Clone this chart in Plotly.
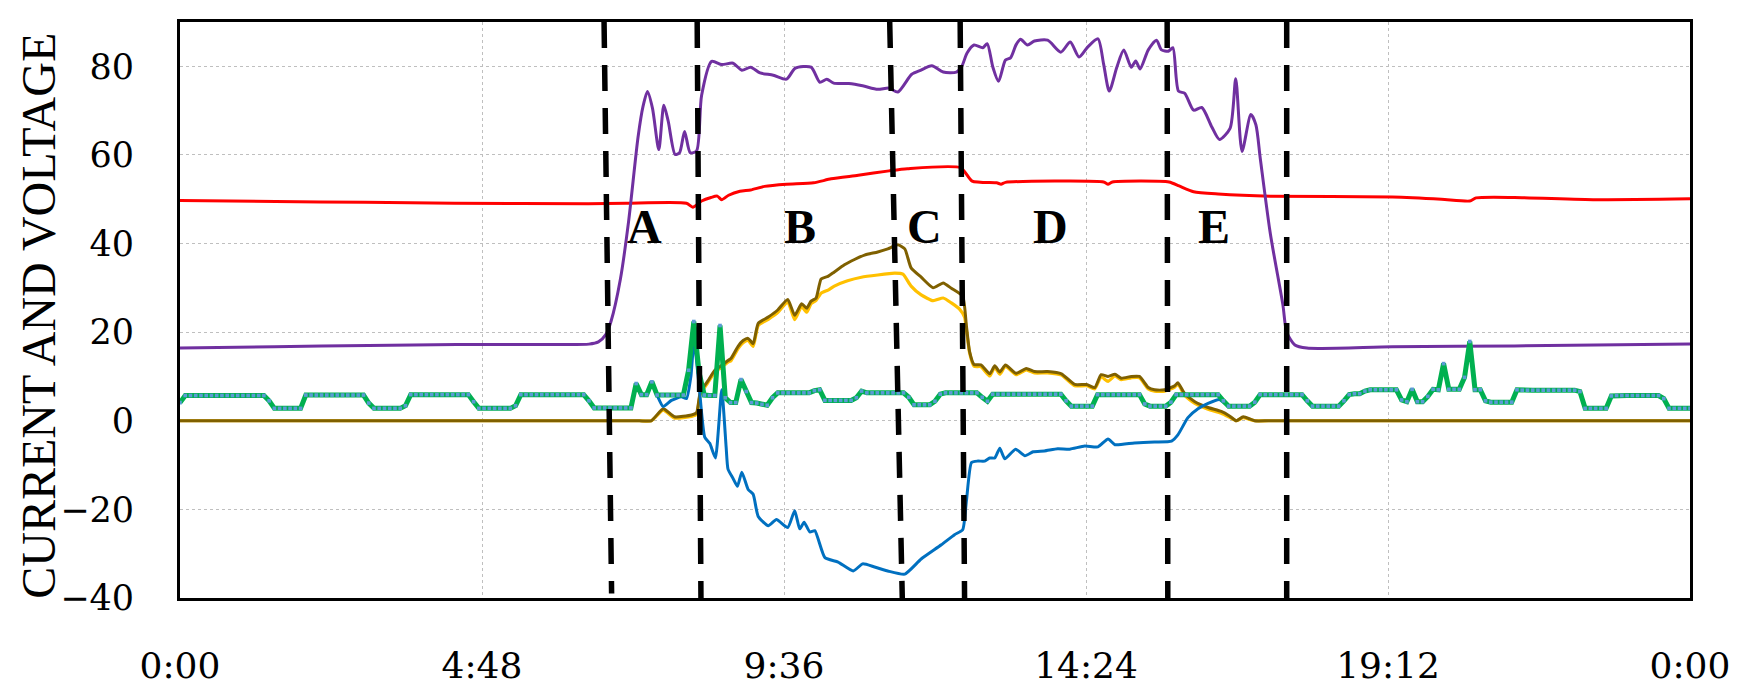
import plotly.graph_objects as go

# ---------------- data (hours of day -> value) ----------------
tick_vals = [0, 4.8, 9.6, 14.4, 19.2, 24]
tick_text = ["0:00", "4:48", "9:36", "14:24", "19:12", "0:00"]

# purple
purple_t = [0, 1.5, 3.0, 4.4, 6.0, 6.5, 6.65, 6.77, 6.85, 7.0, 7.13, 7.28, 7.36, 7.43,
            7.51, 7.61, 7.69, 7.76, 7.87, 7.94, 8.02, 8.11, 8.21, 8.29, 8.45, 8.61, 8.79,
            8.93, 9.07, 9.22, 9.43, 9.64, 9.78, 10.03, 10.17, 10.28, 10.39, 10.63, 10.85,
            11.09, 11.27, 11.41, 11.63, 11.77, 11.95, 12.13, 12.34, 12.42, 12.51, 12.62,
            12.76, 12.83, 12.92, 13.01, 13.12, 13.20, 13.29, 13.36, 13.47, 13.58, 13.79,
            14.0, 14.15, 14.29, 14.43, 14.59, 14.68, 14.77, 14.89, 15.0, 15.12, 15.19,
            15.26, 15.39, 15.52, 15.60, 15.71, 15.78, 15.87, 15.97, 16.11, 16.24, 16.40,
            16.52, 16.69, 16.78, 16.88, 17.02, 17.10, 17.17, 17.33, 17.53, 17.59, 17.72,
            17.91, 19.27, 21.21, 24.0]
purple_v = [16.4, 16.7, 17.0, 17.2, 17.2, 17.3, 17.8, 19.5, 22.4, 32.0, 45.0, 64.0, 71.0, 74.3,
            70.5, 61.2, 71.2, 67.6, 60.1, 60.5, 65.3, 60.5, 60.9, 73.4, 81.1, 80.4, 80.7,
            79.1, 79.8, 78.5, 78.0, 77.1, 79.6, 79.8, 76.4, 77.1, 76.2, 76.1, 75.6,
            74.8, 75.1, 74.2, 78.2, 79.1, 80.1, 78.7, 78.7, 79.8, 83.0, 84.8,
            84.2, 85.1, 79.8, 76.6, 81.4, 81.9, 84.9, 86.1, 84.8, 85.7, 85.9,
            83.2, 85.5, 82.1, 84.4, 86.2, 80.5, 74.4, 79.8, 83.7, 79.8, 81.2,
            79.4, 83.7, 85.9, 83.7, 83.4, 84.2, 74.4, 73.9, 70.1, 70.7, 66.3,
            63.5, 66.0, 77.2, 60.8, 69.1, 66.8, 59.2, 42.2, 26.1, 20.0, 17.1,
            16.4, 16.7, 16.9, 17.3]

# red
red_t = [0, 1.52, 2.94, 4.36, 6.49, 7.09, 8.05, 8.15, 8.29, 8.44, 8.54, 8.61, 8.72, 8.90,
         9.07, 9.29, 9.64, 10.07, 10.35, 10.78, 11.27, 11.56, 12.41, 12.59, 12.98, 13.05,
         13.12, 14.68, 14.75, 14.82, 15.72, 15.88, 16.11, 16.50, 17.33, 19.27, 20.05,
         20.50, 20.60, 21.21, 22.5, 24.0]
red_v = [49.7, 49.5, 49.3, 49.1, 49.0, 49.1, 49.1, 48.2, 49.6, 50.4, 50.7, 49.9, 50.9, 51.8,
         52.1, 52.9, 53.4, 53.7, 54.6, 55.4, 56.4, 56.9, 57.1, 54.1, 53.7, 53.4,
         53.8, 53.9, 53.4, 53.9, 53.9, 53.0, 51.7, 51.2, 50.7, 50.5, 50.0,
         49.6, 50.3, 50.4, 49.9, 50.1]

# brown
brown_t = [0, 2.4, 4.8, 6.0, 7.0, 7.30, 7.49, 7.68, 7.86, 8.13, 8.21, 8.27, 8.39, 8.50, 8.60,
           8.71, 8.76, 8.87, 8.95,
           9.03, 9.11, 9.19, 9.35, 9.50, 9.66, 9.77, 9.88, 9.96, 10.03, 10.11, 10.19, 10.30,
           10.40, 10.56, 10.72, 10.88, 11.09, 11.25, 11.41, 11.52, 11.62, 11.78, 11.97,
           12.13, 12.26, 12.44, 12.50, 12.55, 12.62, 12.73, 12.87, 12.95, 13.03, 13.12,
           13.29, 13.45, 13.58, 13.79, 14.01, 14.22, 14.41, 14.54, 14.64, 14.75, 14.86,
           14.96, 15.12, 15.25, 15.39, 15.49, 15.65, 15.81, 15.86, 15.97, 16.13, 16.34,
           16.55, 16.68, 16.79, 16.90, 17.08, 17.3, 18.0, 19.2, 21.6, 24.0]
brown_v = [0, 0, 0, 0, 0, 0, 0, 2.7, 0.9, 1.3, 1.8, 6.5, 9.0, 11.4, 12.4,
           13.6, 14.1, 16.8, 18.1,
           18.6, 17.4, 22.0, 23.4, 25.0, 27.4, 23.8, 26.4, 25.4, 27.0, 27.7, 32.0, 32.6,
           33.6, 35.2, 36.4, 37.4, 38.1, 38.8, 39.7, 38.8, 34.5, 32.4, 30.0,
           31.1, 29.9, 28.1, 21.3, 15.6, 12.7, 12.6, 10.6, 12.4, 11.0, 12.6,
           10.7, 11.8, 11.1, 11.1, 10.6, 8.2, 8.2, 7.5, 10.4, 10.0, 10.5,
           9.6, 10.0, 10.0, 7.5, 7.0, 7.0, 7.9, 8.6, 6.1, 4.3, 3.0,
           2.1, 1.1, 0.0, 0.9, 0.0, 0.0, 0.0, 0.0, 0.0, 0.0]

# yellow
yellow_t = [0, 2.4, 4.8, 6.0, 7.0, 7.30, 7.49, 7.68, 7.86, 8.13, 8.21, 8.27, 8.39, 8.50, 8.60,
            8.71, 8.76, 8.87, 8.95,
            9.03, 9.11, 9.19, 9.35, 9.50, 9.66, 9.77, 9.88, 9.96, 10.03, 10.11, 10.19, 10.30,
            10.40, 10.61, 10.83, 11.09, 11.36, 11.49, 11.62, 11.78, 11.97, 12.13, 12.26,
            12.39, 12.47, 12.50, 12.55, 12.62, 12.73, 12.87, 12.95, 13.03, 13.12,
            13.29, 13.45, 13.58, 13.79, 14.01, 14.22, 14.41, 14.54, 14.64, 14.75, 14.86,
            14.96, 15.12, 15.25, 15.39, 15.49, 15.65, 15.81, 15.86, 15.97, 16.13, 16.34,
            16.55, 16.68, 16.79, 16.90, 17.08, 17.3, 18.0, 19.2, 21.6, 24.0]
yellow_v = [0, 0, 0, 0, 0, 0, 0, 2.4, 0.6, 1.0, 1.4, 6.0, 8.6, 11.0, 12.0,
            13.2, 13.6, 16.3, 17.6,
            18.1, 16.8, 21.5, 22.9, 24.4, 26.8, 22.8, 25.8, 24.5, 26.4, 27.2, 28.8, 29.5,
            30.4, 31.6, 32.4, 32.9, 33.3, 33.1, 30.4, 28.4, 27.1, 27.7, 26.6,
            25.2, 23.4, 20.5, 15.3, 12.3, 12.2, 10.1, 12.1, 10.5, 12.3,
            10.4, 11.5, 10.8, 10.8, 10.3, 7.9, 7.9, 7.2, 9.9, 8.9, 10.1,
            9.3, 9.7, 9.7, 7.2, 6.7, 6.7, 7.6, 8.3, 5.7, 3.9, 2.6,
            1.7, 0.8, 0.0, 0.7, 0.0, 0.0, 0.0, 0.0, 0.0, 0.0]

# blue (day part; at night it lies under the green series)
blue_t = [7.583, 7.68, 7.81, 7.97, 8.05, 8.12, 8.17, 8.25, 8.34, 8.42, 8.51, 8.61, 8.68,
          8.71, 8.79, 8.86, 8.93, 9.03, 9.11, 9.19, 9.35, 9.48, 9.66, 9.77, 9.85, 9.92,
          10.01, 10.09, 10.25, 10.46, 10.70, 10.85, 11.04, 11.25, 11.52, 11.78, 12.10,
          12.31, 12.44, 12.50, 12.58, 12.68, 12.79, 12.87, 12.95, 13.03, 13.11, 13.28,
          13.43, 13.56, 13.74, 13.95, 14.14, 14.38, 14.59, 14.75, 14.86, 15.17, 15.49,
          15.76, 15.86, 16.02, 16.18, 16.34, 16.52, 16.60, 16.667]
blue_v = [5.8, 3.2, 4.6, 5.4, 5.0, 10.0, 18.0, 8.0, -3.7, -5.1, -8.4, 7.0, -5.9,
          -10.9, -13.0, -14.8, -11.6, -15.5, -16.6, -21.6, -23.7, -22.3, -24.1, -20.3, -24.4, -22.9,
          -25.1, -24.8, -30.9, -31.9, -33.9, -32.3, -33.0, -33.9, -34.6, -31.2, -28.0,
          -25.7, -24.6, -18.0, -9.4, -9.1, -9.1, -8.4, -8.4, -6.2, -8.6, -6.4,
          -7.9, -7.0, -6.8, -6.3, -6.4, -5.7, -5.9, -4.1, -5.4, -5.0, -4.8,
          -4.6, -3.2, 0.7, 2.7, 3.9, 4.8, 4.0, 3.3]

# green (5-minute samples, 0:00 .. 24:00)
green = ([4.1] + [5.7] * 16 + [4.5] + [2.8] * 6 + [5.8] * 12 + [4.0] + [2.8] * 6 + [3.4]
         + [5.9] * 12 + [4.3] + [2.8] * 7 + [3.4] + [5.9] * 13 + [4.5] + [2.9] * 8
         + [8.4, 5.9, 5.9, 8.8] + [5.8] * 6 + [11.4, 22.4, 10.9, 5.8, 5.7, 5.7, 21.5, 5.2, 4.1, 4.1,
                                               9.3, 6.6, 4.1, 4.0, 3.7, 3.5, 5.2]
         + [6.3] * 7 + [6.8, 7.0] + [4.6] * 6 + [5.2, 6.7] + [6.3] * 8 + [5.3] + [3.6] * 4
         + [4.4, 6.0] + [6.3] * 7 + [5.3, 4.4] + [6.0] * 14 + [4.5] + [3.3] * 5 + [5.9] * 9
         + [3.8] + [3.3] * 4 + [4.2] + [5.9] * 9 + [4.5] + [3.3] * 5 + [4.2] + [5.9] * 9
         + [4.5] + [3.3] * 6 + [4.5, 5.9, 6.1, 6.1, 6.7] + [7.0] * 6
         + [4.7, 4.3, 7.1, 4.3, 4.3, 5.5, 7.1, 7.0, 12.9, 7.1, 7.1, 7.1, 9.8, 17.9, 7.0, 7.0, 4.5]
         + [4.2] * 5 + [7.0] + [6.9] * 11 + [6.6] + [2.8] * 5 + [5.6] + [5.7] * 9 + [5.0]
         + [2.8] * 5)
green_step_min = 5
green_t = [i * green_step_min / 60 for i in range(len(green))]

# phase boundaries (top and bottom ends of the dashed lines, hours)
bound_top = [6.74, 8.22, 11.28, 12.40, 15.69, 17.59]
bound_bot = [6.86, 8.28, 11.48, 12.47, 15.70, 17.59]
bound_ybot = [-39.0, -40, -40, -40, -40, -40]

phase_labels = ["A", "B", "C", "D", "E"]
phase_x = [7.39, 9.86, 11.84, 13.84, 16.43]
phase_y = [43.8, 43.8, 43.8, 43.8, 43.8]

# ---------------- figure ----------------
fig = go.Figure()

fig.add_trace(go.Scatter(x=red_t, y=red_v, mode="lines", name="red",
                         line=dict(color="#FF0000", width=3, shape="spline", smoothing=0.6)))
fig.add_trace(go.Scatter(x=purple_t, y=purple_v, mode="lines", name="purple",
                         line=dict(color="#7030A0", width=3, shape="spline", smoothing=0.7)))
fig.add_trace(go.Scatter(x=yellow_t, y=yellow_v, mode="lines", name="yellow",
                         line=dict(color="#FFC000", width=3.2, shape="spline", smoothing=0.5)))
fig.add_trace(go.Scatter(x=brown_t, y=brown_v, mode="lines", name="brown",
                         line=dict(color="#7F6000", width=3, shape="spline", smoothing=0.5)))
fig.add_trace(go.Scatter(x=blue_t, y=blue_v, mode="lines", name="blue",
                         line=dict(color="#0070C0", width=3, shape="spline", smoothing=0.5)))
fig.add_trace(go.Scatter(x=green_t, y=green, mode="lines+markers", name="green",
                         line=dict(color="#00B050", width=5),
                         marker=dict(symbol="square", size=3.6, color="#5B9BD5",
                                     line=dict(width=0))))

for xt, xb, yb in zip(bound_top, bound_bot, bound_ybot):
    fig.add_shape(type="line", xref="x", yref="y", x0=xt, y0=90, x1=xb, y1=yb,
                  line=dict(color="black", width=5.5, dash="26px,17px"), layer="above")

for lab, lx, ly in zip(phase_labels, phase_x, phase_y):
    fig.add_annotation(x=lx, y=ly, xref="x", yref="y", text="<b>%s</b>" % lab,
                       showarrow=False, xanchor="center", yanchor="middle",
                       font=dict(family="Liberation Serif", size=48, color="black"))

fig.add_annotation(x=-0.0934, y=0.49, xref="paper", yref="paper",
                   text="CURRENT AND VOLTAGE", textangle=-90, showarrow=False,
                   xanchor="center", yanchor="middle",
                   font=dict(family="Liberation Serif", size=48, color="black"))

fig.update_layout(
    width=1743, height=689,
    margin=dict(l=172, r=61, t=11, b=74),
    paper_bgcolor="white", plot_bgcolor="white",
    showlegend=False,
    xaxis=dict(range=[0, 24], tickvals=tick_vals, ticktext=tick_text,
               showgrid=True, gridcolor="#BFBFBF", griddash="dot", gridwidth=1,
               showline=True, linecolor="black", linewidth=3, mirror=True,
               zeroline=False, ticks="", ticklabelstandoff=34,
               tickfont=dict(family="DejaVu Serif", size=36, color="black")),
    yaxis=dict(range=[-40, 90], tick0=0, dtick=20,
               showgrid=True, gridcolor="#BFBFBF", griddash="dot", gridwidth=1,
               showline=True, linecolor="black", linewidth=3, mirror=True,
               zeroline=False, ticks="", ticklabelstandoff=36,
               tickfont=dict(family="DejaVu Serif", size=35, color="black")),
)

fig.write_html("out.html")
